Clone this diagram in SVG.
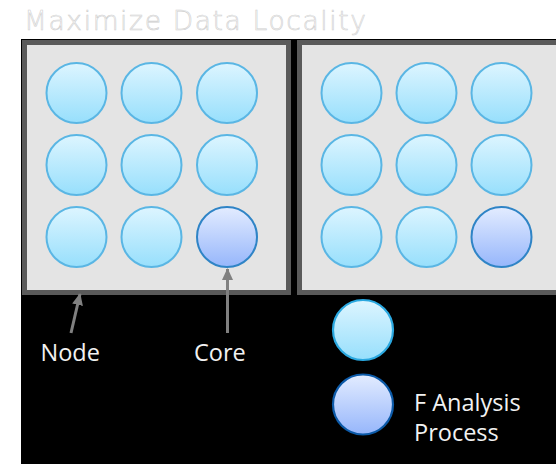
<svg xmlns="http://www.w3.org/2000/svg" width="556" height="464" viewBox="0 0 556 464">
  <defs>
    <linearGradient id="gCore" x1="0" y1="0" x2="0" y2="1">
      <stop offset="0" stop-color="#ddf5ff"/>
      <stop offset="1" stop-color="#97dffc"/>
    </linearGradient>
    <linearGradient id="gProc" x1="0" y1="0" x2="0" y2="1">
      <stop offset="0" stop-color="#e3ecff"/>
      <stop offset="1" stop-color="#96b6fb"/>
    </linearGradient>
    <marker id="head" markerUnits="userSpaceOnUse" markerWidth="12" markerHeight="13" viewBox="0 0 12 13" refX="11" refY="6" orient="auto">
      <path d="M0,0.5 L12,6 L0,11.5 Z" fill="#808080"/>
    </marker>
    <style>
      .box { fill: #e4e4e4; stroke: #5a5a5a; stroke-width: 5; }
      .core { fill: url(#gCore); stroke: #5ab6e4; stroke-width: 2; }
      .proc { fill: url(#gProc); stroke: #2f84c6; stroke-width: 2; }
      .lbl { font-family: "Open Sans", "DejaVu Sans", sans-serif; font-size: 23.5px; fill: #f2f2f2; }
      .arrow { stroke: #808080; stroke-width: 3; fill: none; marker-end: url(#head); }
    </style>
  </defs>

  <!-- page and dark panel -->
  <rect x="0" y="0" width="556" height="464" fill="#ffffff"/>
  <rect x="21" y="39" width="535" height="425" fill="#000000"/>

  <text x="24" y="30" font-family="'DejaVu Sans', sans-serif" font-weight="200" font-size="26.5" fill="#ffffff" stroke="#cfcfcf" stroke-width="0.6" textLength="342" lengthAdjust="spacing">Maximize Data Locality</text>

  <!-- first node -->
  <g id="node-1">
    <rect class="box" x="24.5" y="42.5" width="264" height="250"/>
    <g id="node-1-cores">
      <circle class="core" cx="76.5" cy="93" r="30"/>
      <circle class="core" cx="151.5" cy="93" r="30"/>
      <circle class="core" cx="227" cy="93" r="30"/>
      <circle class="core" cx="76.5" cy="165" r="30"/>
      <circle class="core" cx="151.5" cy="165" r="30"/>
      <circle class="core" cx="227" cy="165" r="30"/>
      <circle class="core" cx="76.5" cy="237" r="30"/>
      <circle class="core" cx="151.5" cy="237" r="30"/>
      <circle class="proc" cx="227" cy="237" r="30"/>
    </g>
  </g>

  <!-- second node -->
  <g id="node-2">
    <rect class="box" x="299.5" y="42.5" width="264" height="250"/>
    <g id="node-2-cores">
      <circle class="core" cx="351.5" cy="93" r="30"/>
      <circle class="core" cx="426.5" cy="93" r="30"/>
      <circle class="core" cx="501.5" cy="93" r="30"/>
      <circle class="core" cx="351.5" cy="165" r="30"/>
      <circle class="core" cx="426.5" cy="165" r="30"/>
      <circle class="core" cx="501.5" cy="165" r="30"/>
      <circle class="core" cx="351.5" cy="237" r="30"/>
      <circle class="core" cx="426.5" cy="237" r="30"/>
      <circle class="proc" cx="501.5" cy="237" r="30"/>
    </g>
  </g>

  <!-- callouts -->
  <g id="connectors">
    <line class="arrow" x1="71" y1="333" x2="80" y2="294"/>
    <line class="arrow" x1="227.5" y1="333" x2="227.5" y2="269"/>
  </g>

  <g id="label-node"><text class="lbl" x="40.5" y="361">Node</text></g>
  <g id="label-core"><text class="lbl" x="194" y="361">Core</text></g>

  <!-- legend -->
  <g id="legend-core">
    <circle cx="363" cy="330" r="30" fill="url(#gCore)" stroke="#2aa8e0" stroke-width="2.2"/>
  </g>
  <g id="legend-process">
    <circle cx="363" cy="404.5" r="30" fill="url(#gProc)" stroke="#0c5aa8" stroke-width="2.2"/>
    <text class="lbl" x="414" y="411">F Analysis</text>
    <text class="lbl" x="414" y="440.5">Process</text>
  </g>
</svg>
